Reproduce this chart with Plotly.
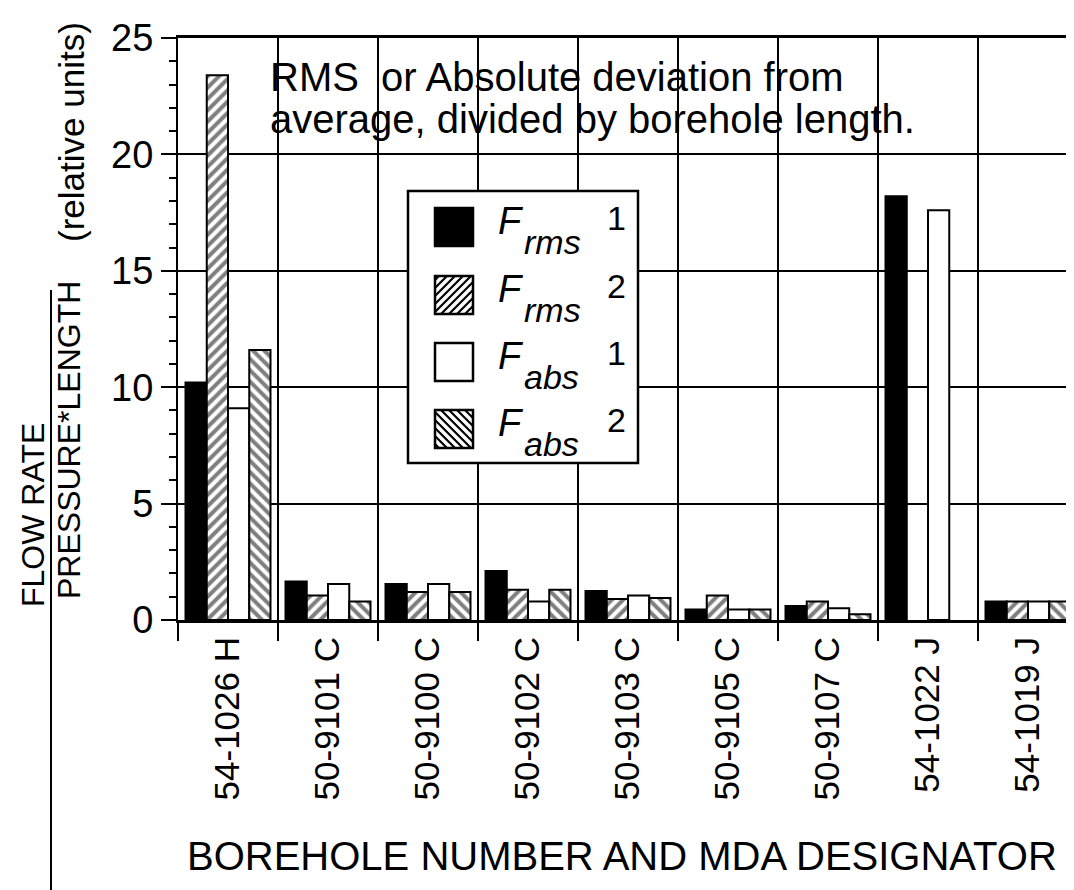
import plotly.graph_objects as go

categories = ["54-1026 H", "50-9101 C", "50-9100 C", "50-9102 C", "50-9103 C",
              "50-9105 C", "50-9107 C", "54-1022 J", "54-1019 J"]
frms_1 = [10.2, 1.65, 1.55, 2.1, 1.25, 0.45, 0.6, 18.2, 0.8]
frms_2 = [23.4, 1.05, 1.2, 1.3, 0.9, 1.05, 0.8, None, 0.8]
fabs_1 = [9.1, 1.55, 1.55, 0.8, 1.05, 0.45, 0.5, 17.6, 0.8]
fabs_2 = [11.6, 0.8, 1.2, 1.3, 0.95, 0.45, 0.25, None, 0.8]
y_ticks = [0, 5, 10, 15, 20, 25]
legend_labels = [("rms", "1"), ("rms", "2"), ("abs", "1"), ("abs", "2")]

FONT = "Liberation Sans, Arial, Helvetica, sans-serif"
OFF = 8            # page body margin of the html page
W, H = 1074 - OFF, 890 - OFF
L, T, B = 170, 30, 270
PW = W - L
PH = H - T - B


def px(xw):
    """window x pixel -> paper fraction"""
    return (xw - OFF - L) / PW


def py(yw):
    """window y pixel -> paper fraction"""
    return (H - B - (yw - OFF)) / PH


series = [
    (frms_1, "black", ""),
    (frms_2, "white", "/"),
    (fabs_1, "white", ""),
    (fabs_2, "white", "\\"),
]

fig = go.Figure()
for i, (vals, color, shape) in enumerate(series):
    sub, num = legend_labels[i]
    fig.add_trace(go.Bar(
        x=categories, y=vals, name=f"F{sub} {num}", showlegend=False,
        marker=dict(color=color, line=dict(color="black", width=2),
                    pattern=dict(shape=shape, fgcolor="black", bgcolor="white",
                                 size=8, solidity=0.5)),
    ))

fig.update_layout(
    width=W, height=H,
    margin=dict(l=L, r=0, t=T, b=B, autoexpand=False),
    paper_bgcolor="white", plot_bgcolor="white",
    barmode="group", bargap=0.15, bargroupgap=0,
    font=dict(family=FONT, color="black", size=30),
    showlegend=False,
)

fig.update_xaxes(
    type="category", range=[-0.5, 8.46], automargin=False,
    tickson="boundaries", ticks="outside", ticklen=18, tickwidth=2, tickcolor="black",
    showgrid=True, gridcolor="black", gridwidth=2,
    showline=True, linecolor="black", linewidth=3, mirror=True,
    tickangle=-90, tickfont=dict(size=35, family=FONT),
)
fig.update_yaxes(
    range=[0, 25], tickvals=y_ticks, ticks="outside", ticklen=15, tickwidth=2,
    automargin=False,
    tickcolor="black", showgrid=True, gridcolor="black", gridwidth=2,
    showline=True, linecolor="black", linewidth=2, zeroline=False,
    tickfont=dict(size=38, family=FONT),
    minor=dict(dtick=1, ticks="outside", ticklen=7, tickwidth=2, tickcolor="black",
               showgrid=False),
)

# white box behind the note (covers grid, under bars)
fig.add_shape(type="rect", xref="x domain", yref="y domain", layer="below",
              x0=px(256), x1=px(930), y0=py(146), y1=py(56),
              fillcolor="white", line=dict(width=0))
fig.add_annotation(
    text="RMS\u00a0 or Absolute deviation from",
    xref="paper", yref="paper", x=px(268), y=py(77), xanchor="left", yanchor="middle",
    showarrow=False, font=dict(size=40, family=FONT),
)
fig.add_annotation(
    text="average, divided by borehole length.",
    xref="paper", yref="paper", x=px(268), y=py(119), xanchor="left", yanchor="middle",
    showarrow=False, font=dict(size=40, family=FONT),
)

# legend box
fig.add_shape(type="rect", xref="paper", yref="paper", layer="above",
              x0=px(408), x1=px(638), y0=py(463), y1=py(191),
              fillcolor="white", line=dict(color="black", width=2.5))
centers = [227, 295, 362, 429]
half = 19
sx0, sx1 = 435, 473
for i, cy in enumerate(centers):
    _, color, shape = series[i]
    y0, y1 = cy - half, cy + half
    fig.add_shape(type="rect", xref="paper", yref="paper", layer="above",
                  x0=px(sx0), x1=px(sx1), y0=py(y1), y1=py(y0),
                  fillcolor=color, line=dict(color="black", width=2.5))
    if shape:
        step = 8
        size = sx1 - sx0
        path = ""
        for c in range(step // 2, 2 * size, step):
            u0, v0 = max(0, c - size), min(c, size)
            u1, v1 = min(c, size), max(0, c - size)
            if shape == "/":
                a = (sx0 + u0, y0 + v0)
                b = (sx0 + u1, y0 + v1)
            else:
                a = (sx0 + u0, y1 - v0)
                b = (sx0 + u1, y1 - v1)
            path += f"M{px(a[0])},{py(a[1])} L{px(b[0])},{py(b[1])} "
        fig.add_shape(type="path", xref="paper", yref="paper", layer="above",
                      path=path, line=dict(color="black", width=2.2))
    sub, num = legend_labels[i]
    fig.add_annotation(text="<i>F</i>", xref="paper", yref="paper",
                       x=px(496), y=py(cy - 6), xanchor="left", yanchor="middle",
                       showarrow=False, font=dict(size=38, family=FONT))
    fig.add_annotation(text=f"<i>{sub}</i>", xref="paper", yref="paper",
                       x=px(522), y=py(cy + 15), xanchor="left", yanchor="middle",
                       showarrow=False, font=dict(size=34, family=FONT))
    fig.add_annotation(text=num, xref="paper", yref="paper",
                       x=px(616), y=py(cy - 9), xanchor="center", yanchor="middle",
                       showarrow=False, font=dict(size=34, family=FONT))

fig.add_annotation(
    text="BOREHOLE NUMBER AND MDA DESIGNATOR",
    xref="paper", yref="paper", x=px(622), y=py(856), xanchor="center", yanchor="middle",
    showarrow=False, font=dict(size=40, family=FONT),
)
# y-axis title (fraction)
fig.add_annotation(
    text="FLOW RATE", xref="paper", yref="paper", x=px(33), y=py(515),
    xanchor="center", yanchor="middle", textangle=-90, showarrow=False,
    font=dict(size=32, family=FONT),
)
fig.add_annotation(
    text="PRESSURE*LENGTH", xref="paper", yref="paper", x=px(69), y=py(440),
    xanchor="center", yanchor="middle", textangle=-90, showarrow=False,
    font=dict(size=32, family=FONT),
)
fig.add_annotation(
    text="(relative units)", xref="paper", yref="paper", x=px(72), y=py(132),
    xanchor="center", yanchor="middle", textangle=-90, showarrow=False,
    font=dict(size=35, family=FONT),
)
fig.add_shape(type="line", xref="paper", yref="paper",
              x0=px(51), x1=px(51), y0=py(890), y1=py(290),
              line=dict(color="black", width=2))

fig.write_html("out.html")
